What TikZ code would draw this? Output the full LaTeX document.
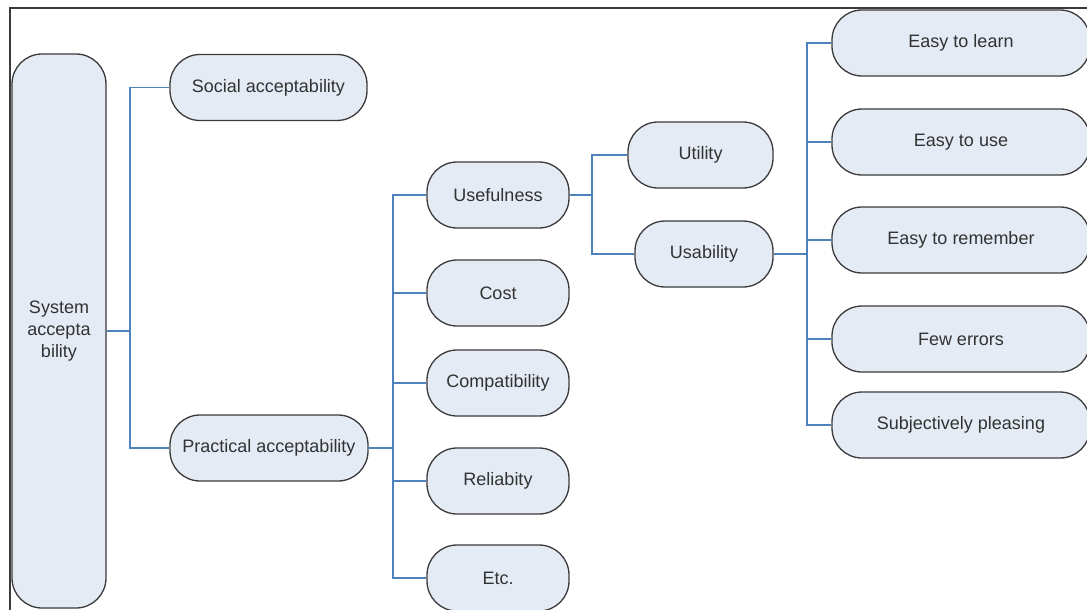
\documentclass[tikz,border=0pt]{standalone}
\usepackage{fontspec}
\setmainfont{Liberation Sans}
\usepackage{tikz}
\usetikzlibrary{arrows.meta}

\definecolor{pillfill}{RGB}{229,235,245}
\definecolor{pillline}{RGB}{58,58,58}
\definecolor{linkblue}{RGB}{79,129,189}
\definecolor{textgray}{RGB}{50,50,50}

\begin{document}
\begin{tikzpicture}[x=0.5pt,y=-0.5pt,
  pill/.style={draw=pillline,line width=0.65pt,fill=pillfill,rounded corners=15pt,
    minimum height=33pt,inner sep=0pt,text=textgray,font=\fontsize{9}{11}\selectfont},
  link/.style={draw=linkblue,line width=0.75pt},
  trunk/.style={draw=linkblue,line width=1.4pt}]
\useasboundingbox (0,0) rectangle (1087,610);
\draw [line width=0.8pt,color=pillline] (1087,8) -- (10,8) -- (10,610);
%%%%%%%%% left part
\node [pill,minimum width=47pt,minimum height=277pt,align=center] (sys) at (59,331)
  {System\\accepta\\bility};
\node [pill,minimum width=98.5pt] (social) at (268.5,87.5) {Social acceptability};
\node [pill,minimum width=99pt] (practical) at (269,448) {Practical acceptability};
%%%%%%%%% middle column
\node [pill,minimum width=71pt] (useful) at (498,195) {Usefulness};
\node [pill,minimum width=71pt] (cost) at (498,293) {Cost};
\node [pill,minimum width=71pt] (compat) at (498,383) {Compatibility};
\node [pill,minimum width=71pt] (reliab) at (498,481) {Reliabity};
\node [pill,minimum width=71pt] (etc) at (498,578) {Etc.};
%%%%%%%%% usefulness
\node [pill,minimum width=72.5pt] (utility) at (700.5,155) {Utility};
\node [pill,minimum width=69pt] (usability) at (704,254) {Usability};
%%%%%%%%% right column
\node [pill,minimum width=129pt] (learn) at (961,43) {Easy to learn};
\node [pill,minimum width=129pt] (use) at (961,142) {Easy to use};
\node [pill,minimum width=129pt] (remember) at (961,240) {Easy to remember};
\node [pill,minimum width=129pt] (errors) at (961,339) {Few errors};
\node [pill,minimum width=129pt] (pleasing) at (961,425) {Subjectively pleasing};
%%%%%%%%% connectors
\coordinate (b1) at (130,331);
\coordinate (b2) at (393,448);
\coordinate (b3) at (592,195);
\coordinate (b4) at (807,254);
\draw [trunk] (sys.east) -- (b1);
\draw [link] (social.west) -| (b1) |- (practical.west);
\draw [trunk] (practical.east) -- (b2);
\draw [link] (useful.west) -| (b2) |- (etc.west);
\foreach \n in {cost,compat,reliab}
  \draw [link] (\n.west) -- (\n.west -| b2);
\draw [trunk] (useful.east) -- (b3);
\draw [link] (utility.west) -| (b3) |- (usability.west);
\draw [trunk] (usability.east) -- (b4);
\draw [link] (learn.west) -| (b4) |- (pleasing.west);
\foreach \n in {use,remember,errors}
  \draw [link] (\n.west) -- (\n.west -| b4);
\end{tikzpicture}
\end{document}
